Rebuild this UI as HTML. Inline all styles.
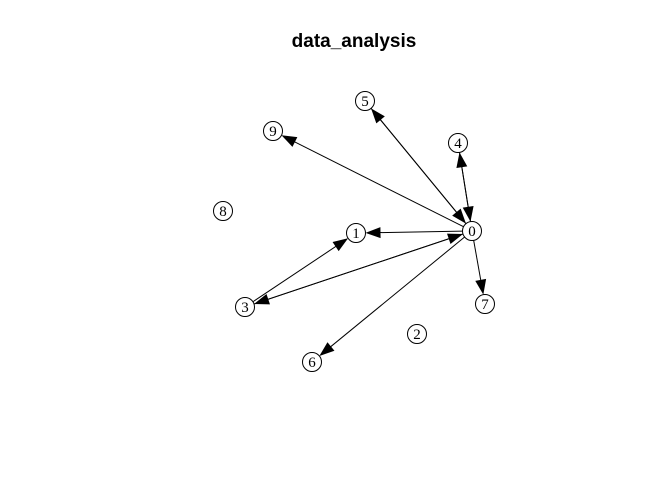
<!DOCTYPE html>
<html><head><meta charset="utf-8"><style>
body{margin:0;background:#fff;width:672px;height:480px;overflow:hidden}
svg{display:block}
</style></head><body>
<svg id="s" width="672" height="480" xmlns="http://www.w3.org/2000/svg">
<text x="354" y="47" text-anchor="middle" font-family="Liberation Sans, sans-serif" font-weight="bold" font-size="19">data_analysis</text>
<g id="e" stroke="#000" fill="#000"></g>
<g id="n"></g>
</svg>
<script>
var N={0:[472,231],1:[356,233],2:[417,334],3:[245,307],4:[458,143],5:[365,101],6:[312,362],7:[485,304],8:[223,211],9:[273,131]};
var E=[[0,1],[0,9],[0,5],[5,0],[0,4],[4,0],[0,7],[0,6],[0,3],[3,0],[3,1]];
var r=9.5,ns="http://www.w3.org/2000/svg",eg=document.getElementById('e'),ng=document.getElementById('n');
E.forEach(function(p){var a=N[p[0]],b=N[p[1]];var dx=b[0]-a[0],dy=b[1]-a[1],L=Math.hypot(dx,dy),ux=dx/L,uy=dy/L;
var x1=a[0]+ux*r,y1=a[1]+uy*r,x2=b[0]-ux*r,y2=b[1]-uy*r;
var l=document.createElementNS(ns,'line');l.setAttribute('x1',x1);l.setAttribute('y1',y1);l.setAttribute('x2',x2-ux*6);l.setAttribute('y2',y2-uy*6);l.setAttribute('stroke-width','1');eg.appendChild(l);
var bx=x2-ux*15,by=y2-uy*15,px=-uy*5.5,py=ux*5.5;
var g=document.createElementNS(ns,'polygon');g.setAttribute('points',x2+','+y2+' '+(bx+px)+','+(by+py)+' '+(bx-px)+','+(by-py));g.setAttribute('stroke','none');eg.appendChild(g);});
for(var k in N){var c=document.createElementNS(ns,'circle');c.setAttribute('cx',N[k][0]);c.setAttribute('cy',N[k][1]);c.setAttribute('r',r);c.setAttribute('fill','#fff');c.setAttribute('stroke','#000');ng.appendChild(c);
var t=document.createElementNS(ns,'text');t.setAttribute('x',N[k][0]);t.setAttribute('y',N[k][1]+5);t.setAttribute('text-anchor','middle');t.setAttribute('font-family','Liberation Serif, serif');t.setAttribute('font-size','15');t.textContent=k;ng.appendChild(t);}
</script>
</body></html>
